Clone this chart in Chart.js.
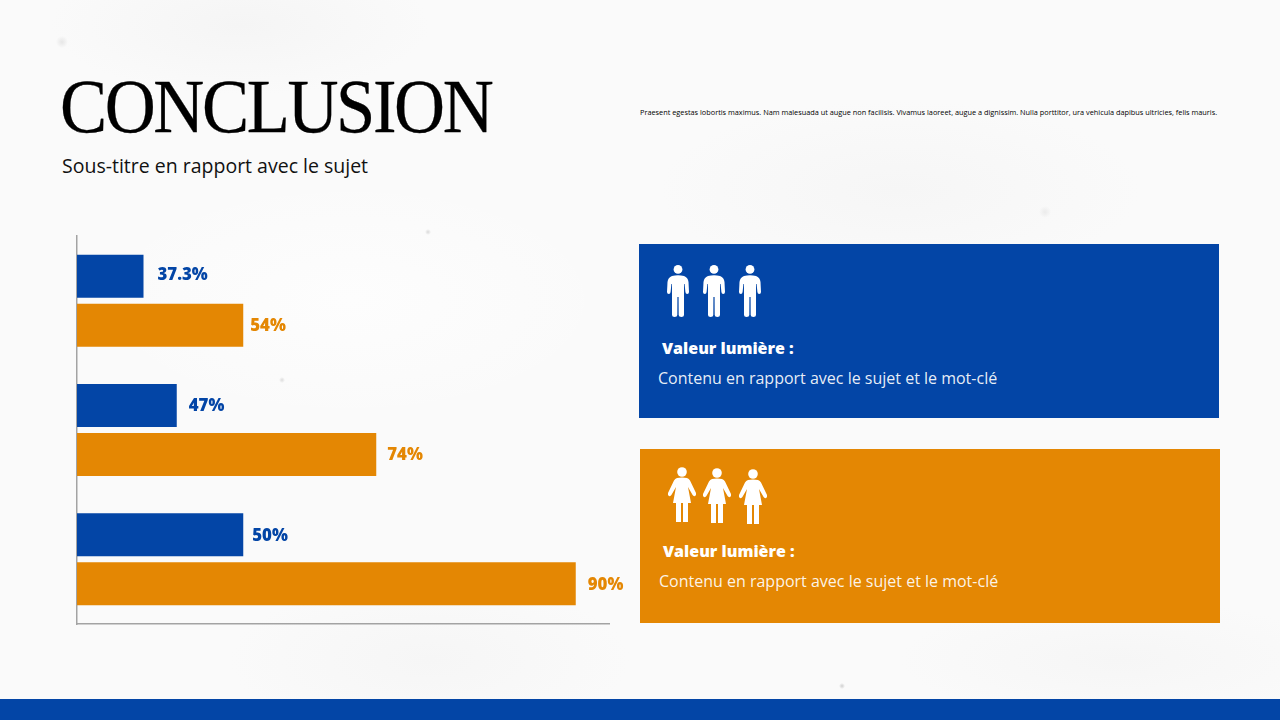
<!DOCTYPE html>
<html lang="fr">
<head>
<meta charset="utf-8">
<title>Conclusion</title>
<script src="https://cdn.jsdelivr.net/npm/chart.js@4"></script>
<style>
  html, body { margin: 0; padding: 0; }
  body {
    position: relative; width: 1280px; height: 720px; overflow: hidden;
    background-color: #fafafa;
    background-image:
      radial-gradient(circle at 428px 232px, #d9d9d9 0, transparent 3px),
      radial-gradient(circle at 842px 686px, #cfcfcf 0, transparent 3px),
      radial-gradient(circle at 282px 380px, #dcdcdc 0, transparent 3px),
      radial-gradient(circle at 62px 42px, #e6e6e6 0, transparent 6px),
      radial-gradient(circle at 1045px 212px, #ebebeb 0, transparent 6px),
      radial-gradient(ellipse 190px 70px at 240px 25px, #f5f5f5 0, transparent 100%),
      radial-gradient(ellipse 240px 90px at 900px 190px, #f6f6f6 0, transparent 100%),
      radial-gradient(ellipse 200px 80px at 430px 660px, #f6f6f6 0, transparent 100%),
      radial-gradient(ellipse 220px 60px at 1120px 660px, #f6f6f6 0, transparent 100%),
      radial-gradient(ellipse 260px 120px at 350px 300px, #fdfdfd 0, transparent 100%);
    font-family: "Open Sans", sans-serif; color: #111;
  }
  #barChart { position: absolute; left: 0; top: 0; }
  .txt { position: absolute; white-space: nowrap; }
  h1 {
    position: absolute; left: 60px; top: 67px; margin: 0; white-space: nowrap;
    font: 400 76px/78px "Liberation Serif", serif; color: #000;
    letter-spacing: -2.6px;
    transform: scaleX(0.93); transform-origin: left top;
    -webkit-text-stroke: 0.3px #000;
  }
  .sub { left: 62px; top: 153px; font-size: 19.5px; line-height: 26px; }
  .lorem { left: 640px; top: 106px; font-size: 7.34px; line-height: 12px; color: #000; }
  .box { position: absolute; color: #fff; }
  .blue { left: 639px; top: 244px; width: 580px; height: 174px; background: #0345a6; }
  .orange { left: 640px; top: 449px; width: 580px; height: 174px; background: #e48703; }
  .box .head { font-weight: 800; font-size: 16px; line-height: 22px; left: 23px; top: 93px; }
  .box .body { font-size: 16px; line-height: 22px; left: 19px; top: 123px; color: rgba(255,255,255,0.92); }
  .orange .head { top: 91px; }
  .orange .body { top: 121px; }
  .box svg { position: absolute; fill: #fff; }
  .footer { position: absolute; left: 0; top: 699px; width: 1280px; height: 21px; background: #0345a6; }
</style>
</head>
<body>
<h1>CONCLUSION</h1>
<div class="txt sub">Sous-titre en rapport avec le sujet</div>
<div class="txt lorem">Praesent egestas lobortis maximus. Nam malesuada ut augue non facilisis. Vivamus laoreet, augue a dignissim. Nulla porttitor, ura vehicula dapibus ultricies, felis mauris.</div>

<canvas id="barChart" width="1280" height="720"></canvas>

<svg width="0" height="0" style="position:absolute">
  <defs>
    <g id="man">
      <circle cx="11" cy="4.4" r="4.4"/>
      <path d="M5 11 Q11 9.5 17 11 Q21 12.5 21.5 17 L22 27 Q22 29 20.2 29 Q18.6 29 18.4 27 L17.6 19 L17 19 L17 50 Q17 52 14.4 52 Q11.7 52 11.7 50 L11.6 32 L10.4 32 L10.3 50 Q10.3 52 7.6 52 Q5 52 5 50 L5 19 L4.4 19 L3.6 27 Q3.4 29 1.8 29 Q0 29 0 27 L0.5 17 Q1 12.5 5 11 Z"/>
    </g>
    <g id="woman">
      <circle cx="14" cy="5" r="4.8"/>
      <path d="M9 11 Q14 10 19 11 Q21 11.5 22 13.5 L28 26 Q28.5 28 27 29 Q25.5 29.5 24.6 28 L20 20 L23 36 L20 36 L20 55 L15 55 L15 36 L13 36 L13 55 L8 55 L8 36 L5 36 L8 20 L3.4 28 Q2.5 29.5 1 29 Q-0.5 28 0 26 L6 13.5 Q7 11.5 9 11 Z"/>
    </g>
  </defs>
</svg>

<div class="box blue">
  <svg style="left:28px;top:21px" width="22" height="52" viewBox="0 0 22 52"><use href="#man"/></svg>
  <svg style="left:64px;top:21px" width="22" height="52" viewBox="0 0 22 52"><use href="#man"/></svg>
  <svg style="left:100px;top:21px" width="22" height="52" viewBox="0 0 22 52"><use href="#man"/></svg>
  <div class="txt head">Valeur lumière :</div>
  <div class="txt body">Contenu en rapport avec le sujet et le mot-clé</div>
</div>
<div class="box orange">
  <svg style="left:28px;top:18px" width="28" height="55" viewBox="0 0 28 55"><use href="#woman"/></svg>
  <svg style="left:63px;top:19px" width="28" height="55" viewBox="0 0 28 55"><use href="#woman"/></svg>
  <svg style="left:99px;top:20px" width="28" height="55" viewBox="0 0 28 55"><use href="#woman"/></svg>
  <div class="txt head">Valeur lumière :</div>
  <div class="txt body">Contenu en rapport avec le sujet et le mot-clé</div>
</div>
<div class="footer"></div>

<script>
const categories = ["Groupe 1", "Groupe 2", "Groupe 3"];
// bar lengths as drawn, they do not follow the printed percentages
const blueValues = [12, 18, 30];
const orangeValues = [30, 54, 90];
const blueLabels = ["37.3%", "47%", "50%"];
const orangeLabels = ["54%", "74%", "90%"];

const BLUE = "#0345a6";
const ORANGE = "#e48703";

// small plugin for the text at the end of each bar
const barLabels = {
  id: "barLabels",
  afterDatasetsDraw(chart) {
    const ctx = chart.ctx;
    ctx.save();
    ctx.font = "800 16.8px 'Open Sans'";
    ctx.textBaseline = "middle";
    chart.data.datasets.forEach((ds, i) => {
      ctx.fillStyle = ds.backgroundColor;
      chart.getDatasetMeta(i).data.forEach((bar, j) => {
        ctx.fillText(ds.endLabels[j], bar.x + ds.labelGaps[j], bar.y + ds.labelLifts[j]);
      });
    });
    ctx.restore();
  }
};

new Chart(document.getElementById("barChart").getContext("2d"), {
  type: "bar",
  data: {
    labels: categories,
    datasets: [
      { data: blueValues, backgroundColor: BLUE, endLabels: blueLabels, labelGaps: [14, 12, 9], labelLifts: [-1, 1, 1] },
      { data: orangeValues, backgroundColor: ORANGE, endLabels: orangeLabels, labelGaps: [7, 11, 12], labelLifts: [1, 1, 1] }
    ]
  },
  options: {
    indexAxis: "y",
    responsive: false,
    animation: false,
    categoryPercentage: 0.758,
    barPercentage: 0.878,
    layout: { padding: { left: 77, right: 671, top: 236, bottom: 96 } },
    plugins: { legend: { display: false }, tooltip: { enabled: false } },
    scales: {
      x: {
        min: 0,
        max: 96,
        grid: { display: false, drawTicks: false },
        ticks: { display: false },
        border: { color: "#a3a3a3", width: 1.5 }
      },
      y: {
        grid: { display: false, drawTicks: false },
        ticks: { display: false },
        border: { color: "#a3a3a3", width: 1.5 }
      }
    }
  },
  plugins: [barLabels]
});
</script>
</body>
</html>
